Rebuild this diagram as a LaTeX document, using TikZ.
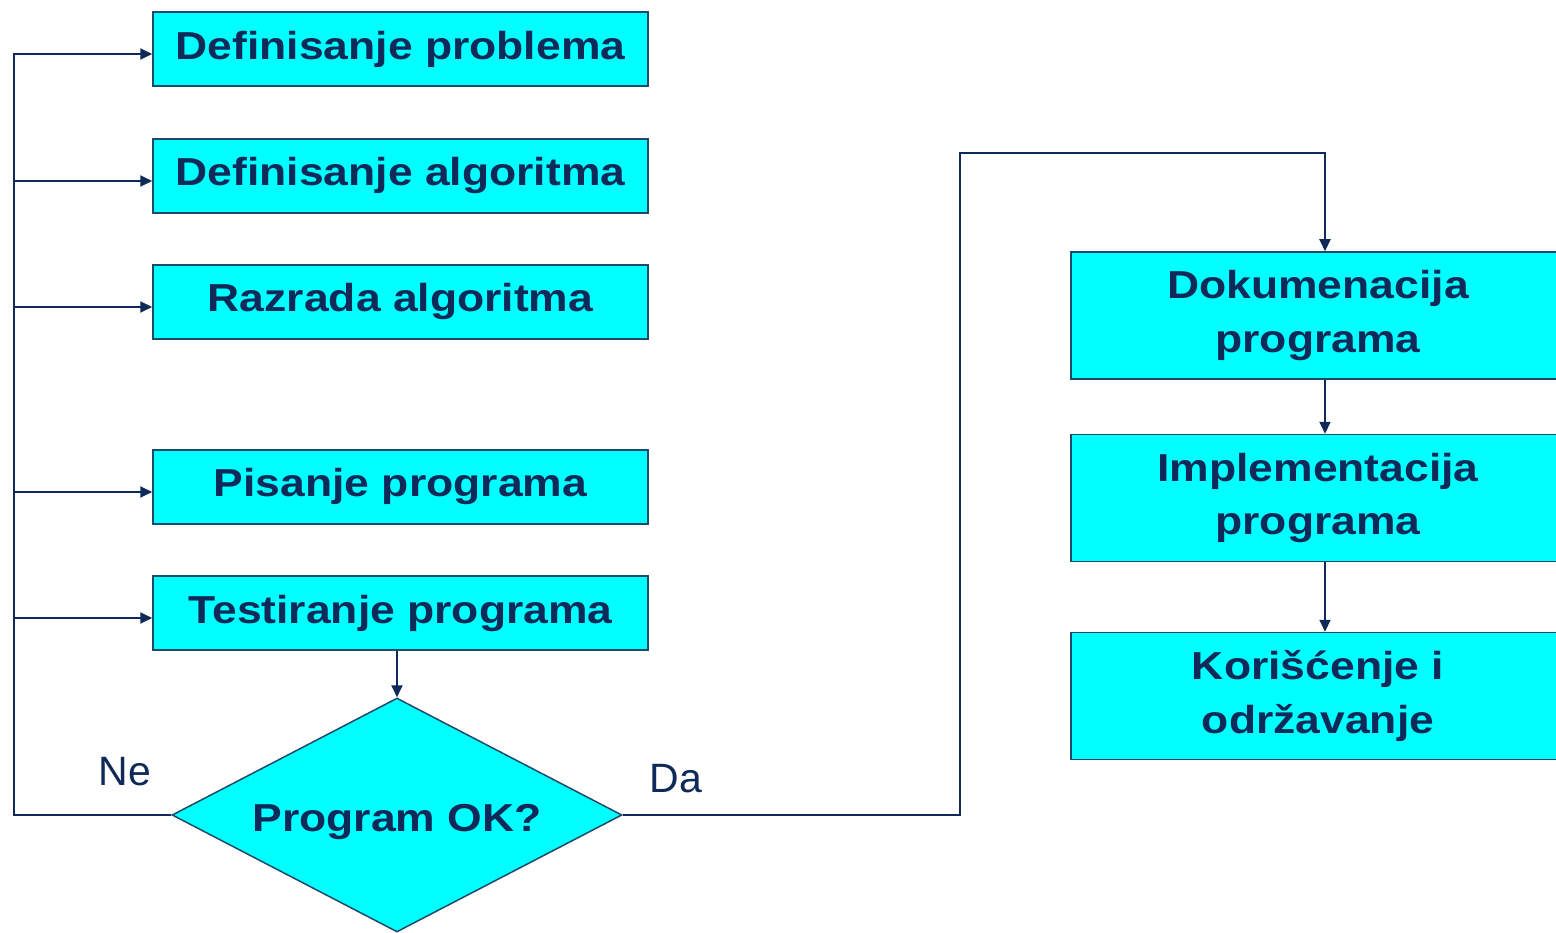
\documentclass[tikz,border=0pt]{standalone}
\usepackage{fontspec}
\setmainfont{Liberation Sans}
\usetikzlibrary{shapes.geometric,arrows.meta}
\definecolor{boxfill}{HTML}{00FFFF}
\definecolor{boxline}{HTML}{1E4A6A}
\definecolor{ink}{HTML}{0F2A58}
\newcommand\wide[1]{\scalebox{1.14}[1]{#1}}
\tikzset{
  stepbox/.style={draw=boxline, line width=1.5pt, fill=boxfill, rectangle, inner sep=0pt,
    text=ink, font=\bfseries\fontsize{39}{54}\selectfont, align=center},
  leftbox/.style={stepbox, minimum width=495pt, minimum height=74pt},
  rightbox/.style={stepbox, minimum width=494pt, minimum height=127pt},
  decision/.style={stepbox, diamond, minimum width=450pt, minimum height=234pt},
  flow/.style={draw=ink, line width=2pt},
  arr/.style={flow, -{Triangle[length=12pt,width=11pt]}},
  lbl/.style={text=ink, font=\fontsize{41}{48}\selectfont, inner sep=0pt}
}
\begin{document}
\begin{tikzpicture}[x=1pt,y=-1pt]
\useasboundingbox (0,0) rectangle (1556,933);
% left column of steps
\node[leftbox] (b1) at (400.5,49) {\wide{Definisanje problema}};
\node[leftbox] (b2) at (400.5,176) {\wide{Definisanje algoritma}};
\node[leftbox] (b3) at (400.5,302) {\wide{Razrada algoritma}};
\node[leftbox] (b4) at (400.5,487) {\wide{Pisanje programa}};
\node[leftbox] (b5) at (400.5,613) {\wide{Testiranje programa}};
% zero-size label so the diamond keeps its own size
\node[decision] (dia) at (397,815) {\makebox[0pt]{\smash{\raisebox{-16pt}{\wide{Program OK?}}}}};
% right column of steps
\node[rightbox] (d1) at (1318,315.5) {\wide{Dokumenacija}\\\wide{programa}};
\node[rightbox] (d2) at (1318,498) {\wide{Implementacija}\\\wide{programa}};
\node[rightbox] (d3) at (1318,696) {\wide{Korišćenje i}\\\wide{održavanje}};
% branch labels
\node[lbl] (ne) at (125,772) {Ne};
\node[lbl] (da) at (676,779) {Da};
% routing points
\coordinate (c0) at (14,815);
\coordinate (r1) at (960,153);
\coordinate (r2) at (1325,153);
\foreach \b in {b1,b2,b3,b4,b5}
  \coordinate (in-\b) at ([yshift=-5pt]\b.west);
% "Ne" feedback loop
\draw[arr] (dia.west) -- (c0) |- (in-b1);
\foreach \b in {b2,b3,b4,b5}
  \draw[arr] (c0 |- in-\b) -- (in-\b);
% test -> decision
\draw[arr] (b5.south -| dia.north) -- (dia.north);
% "Da" path
\draw[arr] (dia.east) -| (r1) -- (r2) -- (r2 |- d1.north);
\draw[arr] (d1.south -| r2) -- (d2.north -| r2);
\draw[arr] (d2.south -| r2) -- (d3.north -| r2);
\end{tikzpicture}
\end{document}
